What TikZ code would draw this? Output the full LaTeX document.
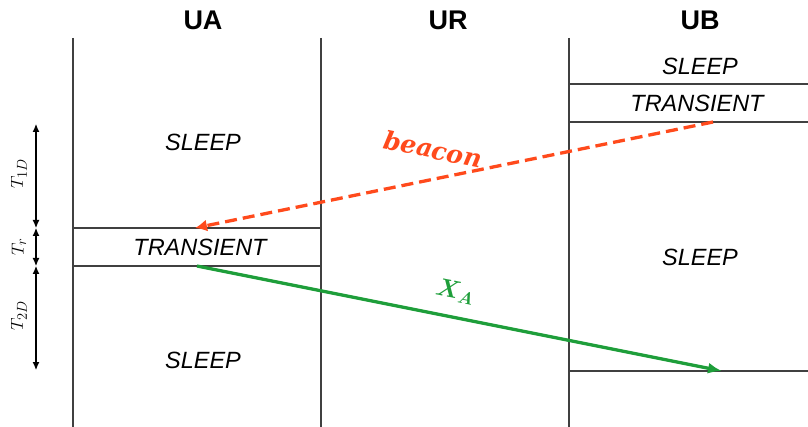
\documentclass[tikz,border=0pt]{standalone}
\usepackage{fontspec}
\setmainfont{Liberation Sans}
\newfontfamily\labelserif{DejaVu Serif}
\usepackage{amsmath}
\usepackage{tikz}
\usetikzlibrary{arrows.meta,positioning}
\definecolor{sleepgrey}{HTML}{404040}
\definecolor{beaconred}{HTML}{FF4A1C}
\definecolor{datagreen}{HTML}{1E9E3A}

\begin{document}
\begin{tikzpicture}[
    x=1pt, y=-1pt,
    lane/.style={draw=sleepgrey, line width=1.2pt},
    head/.style={font=\fontsize{27}{30}\selectfont\bfseries},
    state/.style={font=\fontsize{23.5}{26}\selectfont\itshape},
    dim/.style={{Latex[length=8pt,width=7pt]}-{Latex[length=8pt,width=7pt]}, line width=1.1pt},
    dimlabel/.style={rotate=90, font=\fontsize{19}{22}\selectfont},
    beacon/.style={-{Latex[length=12pt,width=12pt]}, dashed, dash pattern=on 12pt off 6pt,
      line width=3.3pt, draw=beaconred},
    data/.style={-{Latex[length=14pt,width=11pt]}, line width=3.3pt, draw=datagreen}
  ]
    \useasboundingbox (0,0) rectangle (808,427);

    % lanes
    \node[head] (ua) at (203,20) {UA};
    \node[head] (ur) at (448,20) {UR};
    \node[head] (ub) at (700,20) {UB};
    \draw[lane] (73,38) -- (73,427);
    \draw[lane] (321,38) -- (321,427);
    \draw[lane] (569,38) -- (569,427);

    % UA states
    \draw[lane] (73,228) -- (321,228);
    \draw[lane] (73,266) -- (321,266);
    \node[state] (uasleep1) at (203,142) {SLEEP};
    \node[state] (uatrans) at (200,247) {TRANSIENT};
    \node[state] (uasleep2) at (203,360) {SLEEP};

    % UB states
    \draw[lane] (569,84) -- (808,84);
    \draw[lane] (569,122) -- (808,122);
    \draw[lane] (569,371) -- (808,371);
    \node[state] (ubsleep1) at (700,66) {SLEEP};
    \node[state] (ubtrans) at (697,103) {TRANSIENT};
    \node[state] (ubsleep2) at (700,257) {SLEEP};

    % timing
    \coordinate (t0) at (36,124);
    \coordinate (t1) at (36,228);
    \coordinate (t2) at (36,266);
    \coordinate (t3) at (36,370);
    \draw[dim] (t0) -- (t1);
    \draw[dim] (t1) -- (t2);
    \draw[dim] (t2) -- (t3);
    \node[dimlabel] (t1d) at (19,174) {$T_{1D}$};
    \node[dimlabel] (tr) at (19,247) {$T_{r}$};
    \node[dimlabel] (t2d) at (19,316) {$T_{2D}$};

    % messages
    \coordinate (bstart) at (713,122);
    \coordinate (bend) at (195,228);
    \coordinate (xstart) at (197,266);
    \coordinate (xend) at (722,371);
    \draw[beacon] (bstart) -- (bend);
    \draw[data] (xstart) -- (xend);
    \node[text=beaconred, rotate=-11.5, font=\fontsize{25}{28}\labelserif\bfseries\itshape]
      (beaconlbl) at (433,149) {beacon};
    \node[text=datagreen, rotate=-11.3, font=\fontsize{26}{30}\selectfont]
      (xalbl) at (455,292) {$\boldsymbol{X_A}$};
  \end{tikzpicture}
\end{document}
